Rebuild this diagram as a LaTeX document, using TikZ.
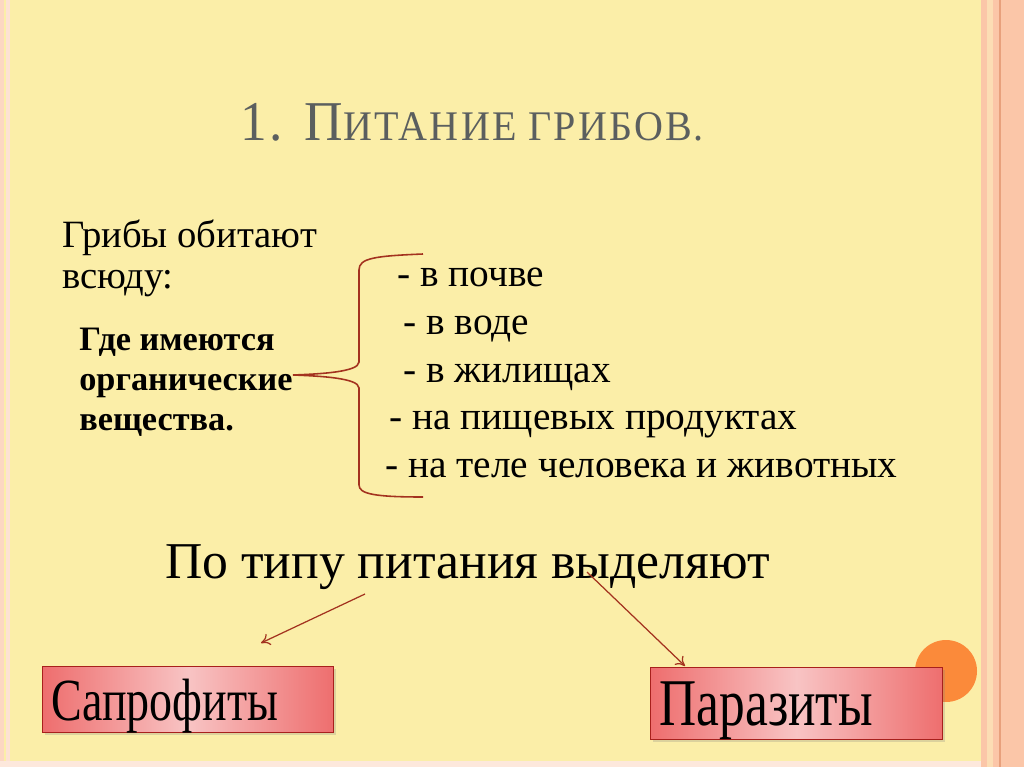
\documentclass[tikz,border=0pt]{standalone}
\usepackage{fontspec}
\setmainfont{Liberation Serif}
\newfontfamily\narrowfont[FakeStretch=0.77]{Liberation Serif}
\newfontfamily\titlefont[FakeStretch=0.95,LetterSpace=5]{Liberation Serif}
\usetikzlibrary{arrows.meta,shadows}
\definecolor{slidebg}{HTML}{FBEEA8}
\definecolor{stripepink}{HTML}{FBC6A8}
\definecolor{stripelight}{HTML}{FCDDB4}
\definecolor{stripeline}{HTML}{E8A07C}
\definecolor{titlegray}{HTML}{5B5F5F}
\definecolor{bracered}{HTML}{A3321F}
\definecolor{boxred}{HTML}{EE6E6E}
\definecolor{boxpink}{HTML}{F8C4C4}
\definecolor{boxborder}{HTML}{A8201C}
\definecolor{dotorange}{HTML}{FB8A3A}
\tikzset{
  plaintext/.style={anchor=base west, inner sep=0pt, font=\fontsize{22}{26}\selectfont},
  listtext/.style={plaintext, font=\fontsize{22.4}{26}\selectfont},
  boldtext/.style={anchor=base west, inner sep=0pt, align=left,
    font=\fontsize{19.5}{22.7}\selectfont\bfseries},
  typebox/.style={anchor=north west, draw=boxborder, line width=0.8pt,
    left color=boxred, right color=boxred, middle color=boxpink,
    inner xsep=0.18cm, align=left, text depth=0pt,
    drop shadow={shadow xshift=1.5pt, shadow yshift=-1.5pt, opacity=0.25}},
  arrw/.style={-{To[length=5pt,width=7pt]}, draw=bracered, line width=0.7pt},
}
\begin{document}
\begin{tikzpicture}[x=0.02cm, y=-0.02cm]
  % slide background and stripes
  \fill[slidebg] (0,0) rectangle (1024,767);
  \useasboundingbox (0,0) rectangle (1024,767);
  \fill[stripepink!70] (0,0) rectangle (4,767);
  \fill[stripepink!50] (6,0) rectangle (10,767);
  \fill[stripepink!40] (0,761) rectangle (981,767);
  \fill[stripepink] (981,0) rectangle (987,767);
  \fill[stripelight] (987,0) rectangle (993,767);
  \fill[stripepink] (993,0) rectangle (1024,767);
  \draw[stripeline, line width=0.6pt] (1000,0) -- (1000,767);

  % title
  \node[anchor=base west, inner sep=0pt, text=titlegray] (title) at (240,140)
    {\titlefont\fontsize{32}{36}\selectfont 1. П\fontsize{24}{28}\selectfont ИТАНИЕ ГРИБОВ.};

  % where fungi live
  \node[plaintext] (everywhere1) at (62,247) {Грибы обитают};
  \node[plaintext] (everywhere2) at (62,288) {всюду:};
  \node[boldtext] (organic) at (79,430)
    {Где имеются\\органические\\вещества.};

  \node[listtext] (soil)   at (397,286) {- в почве};
  \node[listtext] (water)  at (403,334) {- в воде};
  \node[listtext] (homes)  at (403,382) {- в жилищах};
  \node[listtext] (food)   at (389,429) {- на пищевых продуктах};
  \node[listtext] (bodies) at (385,477) {- на теле человека и животных};

  % brace
  \coordinate (tip) at (293,375);
  \draw[bracered, line width=0.9pt] (423,254) .. controls (375,256) and (359,258) .. (359,270)
    -- (359,362) .. controls (359,372) and (320,374) .. (tip)
    .. controls (320,376) and (359,378) .. (359,388)
    -- (359,485) .. controls (359,494) and (375,497) .. (423,497);

  % nutrition types
  \node[anchor=base west, inner sep=0pt, font=\fontsize{29.4}{34}\selectfont] (bytype)
    at (165,578) {По типу питания выделяют};

  \node[typebox, text width=5.46cm, minimum height=1.32cm,
        font=\narrowfont\fontsize{34}{38}\selectfont] (sapro) at (42,666) {Сапрофиты};
  \fill[dotorange] (946,671) circle (31);
  \node[typebox, text width=5.48cm, minimum height=1.44cm,
        font=\narrowfont\fontsize{38}{42}\selectfont] (para) at (650,667) {Паразиты};

  \draw[arrw] (365,594) -- (261,643);
  \draw[arrw] (587,572) -- (685,666);
\end{tikzpicture}
\end{document}
